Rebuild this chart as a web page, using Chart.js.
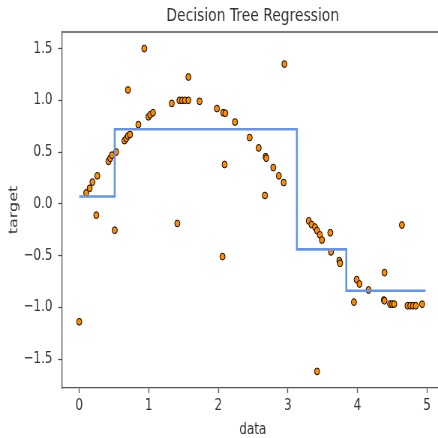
<!DOCTYPE html>
<html lang="en">
<head>
  <meta charset="UTF-8">
  <title>Decision Tree Regression</title>
  <script src="https://cdn.jsdelivr.net/npm/chart.js"></script>
  <style>
    html, body {
      margin: 0;
      padding: 0;
      width: 438px;
      height: 438px;
      overflow: hidden;
      background: white;
    }
    /* the reference is squeezed sideways, so draw wide and squeeze */
    #chart {
      display: block;
      transform: scaleX(0.75);
      transform-origin: 0 0;
    }
  </style>
</head>
<body>
  <canvas id="chart" width="600" height="438"></canvas>

  <script>
    // samples (data, target)
    const dataX = [0.00, 0.10, 0.15, 0.19, 0.245, 0.26, 0.42, 0.445, 0.47, 0.51,
      0.53, 0.65, 0.675, 0.70, 0.70, 0.73, 0.85, 0.935, 0.995, 1.02,
      1.06, 1.33, 1.41, 1.44, 1.48, 1.52, 1.57, 1.57, 1.73, 1.98,
      2.06, 2.07, 2.09, 2.10, 2.24, 2.45, 2.58, 2.67, 2.68, 2.69,
      2.79, 2.87, 2.94, 2.95, 3.30, 3.34, 3.39, 3.42, 3.42, 3.46,
      3.49, 3.61, 3.62, 3.74, 3.75, 3.95, 3.99, 4.03, 4.16, 4.38,
      4.39, 4.39, 4.47, 4.50, 4.53, 4.64, 4.72, 4.76, 4.80, 4.84, 4.93];
    const targetY = [-1.14, 0.105, 0.15, 0.21, -0.11, 0.27, 0.41, 0.44, 0.47, -0.255,
      0.50, 0.61, 0.63, 0.655, 1.10, 0.67, 0.765, 1.50, 0.84, 0.86,
      0.88, 0.97, -0.19, 1.00, 1.00, 1.00, 1.00, 1.225, 0.99, 0.92,
      -0.51, 0.88, 0.38, 0.875, 0.79, 0.64, 0.54, 0.08, 0.455, 0.44,
      0.35, 0.27, 0.205, 1.35, -0.165, -0.20, -0.225, -0.26, -1.62, -0.30,
      -0.35, -0.28, -0.465, -0.55, -0.575, -0.95, -0.733, -0.775, -0.833, -0.93,
      -0.937, -0.665, -0.969, -0.969, -0.969, -0.205, -0.985, -0.985, -0.985, -0.985, -0.97];

    // tree prediction (max_depth=2): value from each split point on
    const treeX = [0.00, 0.51, 3.13, 3.84, 4.98];
    const treeY = [0.07, 0.72, -0.44, -0.84, -0.84];

    const xTicks = [0, 1, 2, 3, 4, 5];
    const yTicks = [-1.5, -1.0, -0.5, 0.0, 0.5, 1.0, 1.5];

    const FONT = "'DejaVu Sans', sans-serif";
    const TEXT = '#333';
    const SPINE = '#555';

    // top spine (right one is off the picture in the reference)
    const topSpine = {
      id: 'topSpine',
      afterDraw(chart) {
        const { ctx, chartArea: a } = chart;
        ctx.save();
        ctx.strokeStyle = SPINE;
        ctx.lineWidth = 1.3;
        ctx.beginPath();
        ctx.moveTo(a.left, a.top);
        ctx.lineTo(a.right, a.top);
        ctx.stroke();
        ctx.restore();
      }
    };

    new Chart(document.getElementById('chart'), {
      data: {
        datasets: [
          {
            type: 'line',
            label: 'max_depth=2',
            data: treeX.map((x, i) => ({ x: x, y: treeY[i] })),
            stepped: true,
            borderColor: '#6495ed',
            borderWidth: 2.6,
            pointRadius: 0,
            fill: false,
            order: 0
          },
          {
            type: 'scatter',
            label: 'data',
            data: dataX.map((x, i) => ({ x: x, y: targetY[i] })),
            backgroundColor: '#ff8c00',
            borderColor: '#000',
            borderWidth: 1,
            pointRadius: 3.4,
            order: 1
          }
        ]
      },
      options: {
        responsive: false,
        devicePixelRatio: 1,
        animation: false,
        layout: { padding: { left: 0, right: 8.5, top: 0, bottom: 0 } },
        plugins: {
          legend: { display: false },
          tooltip: { enabled: false },
          title: {
            display: true,
            text: 'Decision Tree Regression',
            fullSize: false,
            color: TEXT,
            font: { family: FONT, size: 18.5, weight: 'normal', lineHeight: 1.2 },
            padding: { top: 4.9, bottom: 4.9 }
          }
        },
        scales: {
          x: {
            type: 'linear',
            min: -0.25,
            max: 5.24,
            afterBuildTicks: s => { s.ticks = xTicks.map(v => ({ value: v })); },
            afterFit: s => { s.height = 50; },
            grid: { drawOnChartArea: false, tickLength: 5, tickColor: SPINE, tickWidth: 1.3 },
            border: { color: SPINE, width: 1.3 },
            ticks: {
              color: TEXT,
              font: { family: FONT, size: 16 },
              padding: 3,
              autoSkip: false,
              maxRotation: 0,
              callback: v => String(v)
            },
            title: {
              display: true,
              text: 'data',
              color: TEXT,
              font: { family: FONT, size: 16, lineHeight: 1 },
              padding: 0
            }
          },
          y: {
            type: 'linear',
            min: -1.78,
            max: 1.66,
            afterBuildTicks: s => { s.ticks = yTicks.map(v => ({ value: v })); },
            afterFit: s => { s.width = 82.5; },
            grid: { drawOnChartArea: false, tickLength: 5, tickColor: SPINE, tickWidth: 1.3 },
            border: { color: SPINE, width: 1.3 },
            ticks: {
              color: TEXT,
              font: { family: FONT, size: 16 },
              padding: 7.5,
              autoSkip: false,
              callback: v => v.toFixed(1).replace('-', '\u2212')
            },
            title: {
              display: true,
              text: 'target',
              color: TEXT,
              font: { family: FONT, size: 16, lineHeight: 1 },
              padding: { top: 10.7, bottom: 0 }
            }
          }
        }
      },
      plugins: [topSpine]
    });
  </script>
</body>
</html>
